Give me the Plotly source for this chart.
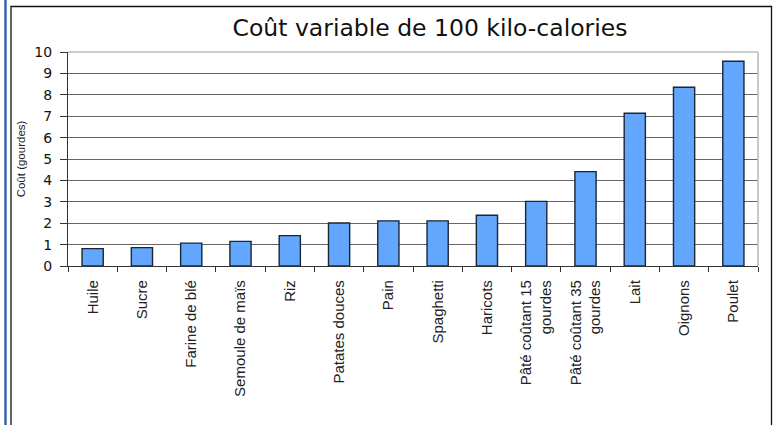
import plotly.graph_objects as go

categories = ["Huile", "Sucre", "Farine de blé", "Semoule de maïs", "Riz", "Patates douces",
              "Pain", "Spaghetti", "Haricots", "Pâté coûtant 15<br>gourdes",
              "Pâté coûtant 35<br>gourdes", "Lait", "Oignons", "Poulet"]
values = [0.81, 0.86, 1.07, 1.15, 1.42, 2.01, 2.11, 2.11, 2.37, 3.02, 4.41, 7.14, 8.35, 9.57]
y_ticks = list(range(0, 11))

W, H = 773, 425
L, R, T, B = 68, 15, 52, 159
pw, ph = W - L - R, H - T - B

def px(x):
    return (x - L) / pw

def py(y):
    return (H - B - y) / ph

font = "Liberation Sans, Arial, sans-serif"
wide = "DejaVu Sans, sans-serif"

fig = go.Figure(go.Bar(
    x=categories, y=values,
    marker=dict(color="#63a6fd", line=dict(color="#1c2633", width=1.4)),
    width=0.43,
))

fig.update_layout(
    width=W, height=H,
    margin=dict(l=L, r=R, t=T, b=B),
    paper_bgcolor="white", plot_bgcolor="white",
    showlegend=False,
    title=dict(text="Coût variable de 100 kilo-calories", x=px(430), xref="paper", xanchor="center",
               y=1 - 28 / H, yanchor="middle", font=dict(family=wide, size=23.5, color="#111111")),
    font=dict(family=font, color="#111111"),
)

fig.update_xaxes(
    showline=True, linecolor="#333333", linewidth=1.3,
    ticks="outside", ticklen=5, tickcolor="#333333", tickson="boundaries",
    tickangle=-90, tickfont=dict(family=font, size=15, color="#222222"),
    ticklabelstandoff=7,
    showgrid=False, mirror=False,
)
fig.update_yaxes(
    range=[0, 10], tickvals=y_ticks, ticktext=[str(v) for v in y_ticks],
    showline=True, linecolor="#333333", linewidth=1.3,
    ticks="outside", ticklen=7, tickcolor="#333333",
    tickfont=dict(family=wide, size=14, color="#111111"),
    ticklabelstandoff=5,
    showgrid=True, gridcolor="#666666", gridwidth=1.3,
    zeroline=False,
    title=dict(text="Coût (gourdes)", font=dict(family=font, size=11.5, color="#222222"), standoff=6),
)

# plot area light border (top & right)
fig.add_shape(type="line", xref="paper", yref="paper", x0=0, x1=1, y0=1, y1=1,
              line=dict(color="#bbbbbb", width=1.6))
fig.add_shape(type="line", xref="paper", yref="paper", x0=1, x1=1, y0=0, y1=1,
              line=dict(color="#bbbbbb", width=1.6))
# outer frame
fig.add_shape(type="rect", xref="paper", yref="paper", x0=px(11), x1=px(771.5), y0=py(430), y1=py(6.5),
              line=dict(color="#111111", width=1.3), layer="above")
fig.add_shape(type="line", xref="paper", yref="paper", x0=px(5.5), x1=px(5.5), y0=py(430), y1=py(0),
              line=dict(color="#3a64a8", width=2.5))

fig.write_html("out.html", config={"displayModeBar": False},
               post_script="document.body.style.margin='0';document.body.style.overflow='hidden';")
